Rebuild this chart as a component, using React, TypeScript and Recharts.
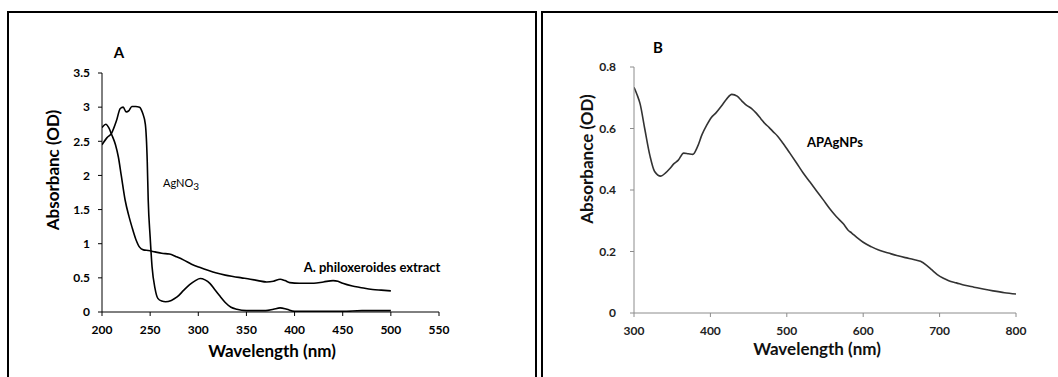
import { LineChart, Line, XAxis, YAxis } from 'recharts';

// Panel A — AgNO3 and A. philoxeroides extract
const agNo3Wl = [200, 205, 210, 215, 219, 222, 225, 228, 231, 235, 239, 242, 245, 247, 248, 250, 252, 255, 258, 262, 266, 272, 278, 285, 291, 297, 302, 307, 312, 317, 322, 328, 334, 340, 350, 360, 370, 378, 385, 392, 400, 420, 450, 470, 500];
const agNo3Abs = [2.45, 2.55, 2.62, 2.8, 2.98, 3.0, 2.93, 2.95, 3.01, 3.01, 3.0, 2.92, 2.75, 2.2, 1.64, 1.1, 0.66, 0.35, 0.2, 0.16, 0.15, 0.17, 0.22, 0.32, 0.4, 0.46, 0.49, 0.47, 0.42, 0.33, 0.24, 0.14, 0.07, 0.04, 0.02, 0.02, 0.02, 0.04, 0.06, 0.04, 0.01, 0.01, 0.01, 0.02, 0.02];

const extractWl = [200, 204, 207, 210, 214, 217, 220, 224, 228, 231, 235, 239, 243, 248, 255, 262, 270, 277, 285, 293, 302, 310, 319, 328, 336, 345, 354, 362, 371, 378, 385, 390, 395, 405, 420, 430, 440, 445, 450, 460, 468, 481, 490, 500];
const extractAbs = [2.7, 2.75, 2.7, 2.6, 2.45, 2.27, 2.0, 1.64, 1.4, 1.25, 1.07, 0.95, 0.91, 0.9, 0.88, 0.86, 0.85, 0.81, 0.76, 0.7, 0.65, 0.61, 0.57, 0.54, 0.52, 0.5, 0.48, 0.46, 0.44, 0.45, 0.48, 0.46, 0.43, 0.42, 0.42, 0.44, 0.46, 0.45, 0.42, 0.38, 0.36, 0.33, 0.32, 0.31];

const ticksAX = [200, 250, 300, 350, 400, 450, 500, 550];
const ticksAY = [0, 0.5, 1, 1.5, 2, 2.5, 3, 3.5];

// Panel B — APAgNPs
const apWl = [300, 304, 308, 314, 321, 327, 335, 341, 347, 352, 358, 365, 371, 377, 383, 389, 395, 401, 407, 415, 421, 428, 435, 441, 447, 454, 460, 466, 471, 477, 482, 488, 495, 504, 513, 521, 530, 539, 548, 556, 565, 574, 580, 585, 592, 600, 611, 622, 633, 644, 655, 666, 675, 683, 690, 697, 705, 712, 722, 733, 745, 757, 770, 785, 800];
const apAbs = [0.734, 0.71, 0.68, 0.6, 0.51, 0.46, 0.445, 0.455, 0.47, 0.485, 0.497, 0.52, 0.518, 0.516, 0.54, 0.58, 0.61, 0.635, 0.65, 0.675, 0.695, 0.711, 0.705, 0.69, 0.676, 0.665, 0.65, 0.632, 0.617, 0.603, 0.59, 0.575, 0.552, 0.52, 0.487, 0.457, 0.427, 0.397, 0.367, 0.34, 0.313, 0.29, 0.27, 0.26, 0.245, 0.23, 0.215, 0.203, 0.195, 0.187, 0.18, 0.174, 0.168, 0.155, 0.14, 0.125, 0.113, 0.105, 0.098, 0.09, 0.084, 0.078, 0.072, 0.066, 0.062];

const ticksBX = [300, 400, 500, 600, 700, 800];
const ticksBY = [0, 0.2, 0.4, 0.6, 0.8];

const agNo3 = agNo3Wl.map((wl, i) => ({ wl, abs: agNo3Abs[i] }));
const extract = extractWl.map((wl, i) => ({ wl, abs: extractAbs[i] }));
const ap = apWl.map((wl, i) => ({ wl, abs: apAbs[i] }));

const FONT = 'Lato, "Open Sans", sans-serif';

function Txt({ x, y, size, weight = 700, rotate, color = '#000', children }: {
  x: number; y: number; size: number; weight?: number; rotate?: boolean; color?: string; children: React.ReactNode;
}) {
  return (
    <div
      style={{
        position: 'absolute', left: x, top: y, fontSize: size, fontWeight: weight, color,
        fontFamily: FONT, lineHeight: 1, whiteSpace: 'nowrap',
        transform: `translate(-50%, -50%)${rotate ? ' rotate(-90deg)' : ''}`,
      }}
    >
      {children}
    </div>
  );
}

export default function App() {
  const tickA = { fontSize: 12, fontWeight: 700, fill: '#000', fontFamily: FONT };
  const tickB = { fontSize: 12, fontWeight: 700, fill: '#222', fontFamily: FONT };
  return (
    <div style={{ position: 'absolute', left: 0, top: 0, width: 1058, height: 377, overflow: 'hidden', background: '#fff' }}>
      <div style={{ position: 'absolute', left: 7, top: 11, width: 530, height: 420, border: '2px solid #000', boxSizing: 'border-box' }} />
      <div style={{ position: 'absolute', left: 541, top: 11, width: 560, height: 420, border: '2px solid #000', boxSizing: 'border-box' }} />

      <div style={{ position: 'absolute', left: 0, top: 0 }}>
        <LineChart width={536} height={377} margin={{ top: 73, right: 97, bottom: 35, left: 62 }}>
          <XAxis
            type="number" dataKey="wl" domain={[200, 550]} ticks={ticksAX} allowDataOverflow
            stroke="#000" tick={tickA} tickSize={4} tickMargin={9} height={30}
          />
          <YAxis
            type="number" dataKey="abs" domain={[0, 3.5]} ticks={ticksAY} allowDataOverflow
            stroke="#000" tick={tickA} tickSize={4} tickMargin={8} width={40}
          />
          <Line data={agNo3} dataKey="abs" type="monotone" stroke="#000" strokeWidth={1.6} dot={false} isAnimationActive={false} />
          <Line data={extract} dataKey="abs" type="monotone" stroke="#000" strokeWidth={1.6} dot={false} isAnimationActive={false} />
        </LineChart>
      </div>

      <div style={{ position: 'absolute', left: 542, top: 0 }}>
        <LineChart width={516} height={377} margin={{ top: 67, right: 42, bottom: 34, left: 52 }}>
          <XAxis
            type="number" dataKey="wl" domain={[300, 800]} ticks={ticksBX} allowDataOverflow
            stroke="#8c8c8c" tick={tickB} tickSize={4} tickMargin={9} height={30}
          />
          <YAxis
            type="number" dataKey="abs" domain={[0, 0.8]} ticks={ticksBY} allowDataOverflow
            stroke="#8c8c8c" tick={tickB} tickSize={4} tickMargin={14} width={40}
          />
          <Line data={ap} dataKey="abs" type="monotone" stroke="#333" strokeWidth={1.6} dot={false} isAnimationActive={false} />
        </LineChart>
      </div>

      <Txt x={119} y={52} size={15}>A</Txt>
      <Txt x={52} y={170} size={17} rotate>Absorbanc (OD)</Txt>
      <Txt x={272} y={350} size={17}>Wavelength (nm)</Txt>
      <Txt x={181} y={184} size={11} weight={400}>AgNO<sub style={{ fontSize: 10, verticalAlign: -3 }}>3</sub></Txt>
      <Txt x={372} y={267} size={13}>A. philoxeroides extract</Txt>

      <Txt x={658} y={47} size={15}>B</Txt>
      <Txt x={586} y={159} size={17} rotate color="#111">Absorbance (OD)</Txt>
      <Txt x={817} y={348} size={17} color="#111">Wavelength (nm)</Txt>
      <Txt x={835} y={142} size={13}>APAgNPs</Txt>
    </div>
  );
}
